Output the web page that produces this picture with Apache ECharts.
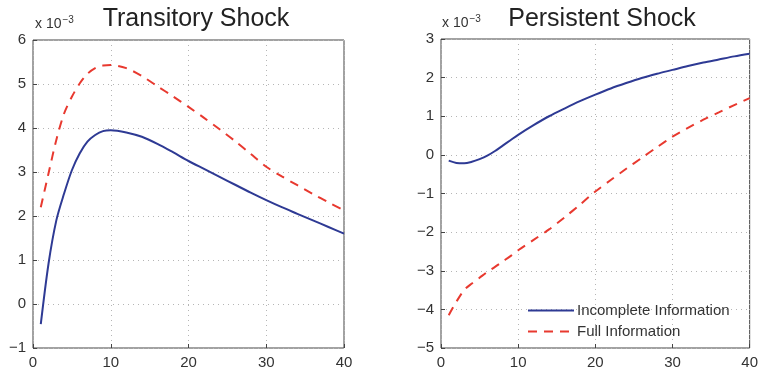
<!DOCTYPE html>
<html>
<head>
<meta charset="utf-8">
<script src="https://cdn.jsdelivr.net/npm/echarts@6/dist/echarts.min.js"></script>
<style>
  html, body { margin: 0; padding: 0; background: #fff; }
  #chart { width: 761px; height: 374px; }
</style>
</head>
<body>
<div id="chart"></div>
<script>
var chartDom = document.getElementById('chart');
var myChart = echarts.init(chartDom);

// values in units of 10^-3
var periods = [1, 2, 3, 4, 5, 6, 7, 8, 9, 10, 12, 14, 16, 18, 20, 22, 24, 26, 28, 30, 32, 34, 36, 38, 40];
var transIncomplete = [-0.46, 0.92, 1.9, 2.51, 3.04, 3.42, 3.69, 3.84, 3.93, 3.95, 3.9, 3.8, 3.64, 3.45, 3.25, 3.07, 2.89, 2.71, 2.53, 2.36, 2.2, 2.05, 1.9, 1.75, 1.6];
var transFull = [2.2, 2.97, 3.73, 4.33, 4.71, 5.01, 5.23, 5.36, 5.42, 5.43, 5.36, 5.18, 4.95, 4.72, 4.48, 4.23, 3.97, 3.7, 3.41, 3.12, 2.9, 2.7, 2.5, 2.31, 2.13];
var persIncomplete = [-0.15, -0.21, -0.22, -0.18, -0.11, -0.02, 0.1, 0.24, 0.38, 0.52, 0.77, 1.0, 1.2, 1.39, 1.56, 1.72, 1.86, 1.99, 2.1, 2.2, 2.3, 2.39, 2.47, 2.55, 2.62];
var persFull = [-4.15, -3.8, -3.5, -3.33, -3.18, -3.03, -2.9, -2.76, -2.62, -2.47, -2.2, -1.93, -1.62, -1.29, -0.95, -0.65, -0.36, -0.08, 0.2, 0.47, 0.7, 0.91, 1.1, 1.29, 1.47];
var titles = ['Transitory Shock', 'Persistent Shock'];
var seriesNames = ['Incomplete Information', 'Full Information'];

function pairs(ys) {
  return periods.map(function (x, i) { return [x, ys[i]]; });
}

var font = 'Liberation Sans, Arial, Helvetica, sans-serif';
var blue = '#2e3a94';
var red = '#e8392f';

function xAx(idx) {
  return {
    type: 'value', gridIndex: idx, min: 0, max: 40, interval: 10,
    axisLine: { show: false, onZero: false },
    axisTick: { inside: true, length: 4, lineStyle: { color: '#444' } },
    axisLabel: { fontSize: 15, color: '#333', fontFamily: font, margin: 7 },
    splitLine: { show: true, lineStyle: { color: '#b5b5b5', type: [1, 4] } }
  };
}
function yAx(idx, min, max) {
  return {
    type: 'value', gridIndex: idx, min: min, max: max, interval: 1,
    axisLine: { show: false, onZero: false },
    axisTick: { show: true, inside: true, length: 4, lineStyle: { color: '#444' } },
    axisLabel: {
      fontSize: 15, color: '#333', fontFamily: font, margin: 7,
      formatter: function (v) { return String(v).replace('-', '\u2212'); }
    },
    splitLine: { show: true, lineStyle: { color: '#b5b5b5', type: [1, 4] } }
  };
}

myChart.setOption({
  animation: false,
  title: [
    { text: titles[0], left: 191, top: 2, textAlign: 'center',
      textStyle: { fontSize: 25, fontWeight: 'normal', color: '#222', fontFamily: font } },
    { text: titles[1], left: 597, top: 2, textAlign: 'center',
      textStyle: { fontSize: 25, fontWeight: 'normal', color: '#222', fontFamily: font } }
  ],
  graphic: [
    { type: 'text', left: 35, top: 15,
      style: { text: 'x 10{s|\u22123}', fill: '#333', font: '14px ' + font,
        rich: { s: { fontSize: 10, verticalAlign: 'top', padding: [0, 0, 9, 1] } } } },
    { type: 'text', left: 442, top: 14,
      style: { text: 'x 10{s|\u22123}', fill: '#333', font: '14px ' + font,
        rich: { s: { fontSize: 10, verticalAlign: 'top', padding: [0, 0, 9, 1] } } } }
  ],
  legend: {
    data: seriesNames,
    orient: 'vertical',
    left: 522, top: 298,
    itemWidth: 46, itemHeight: 10, itemGap: 6,
    itemStyle: { opacity: 0 },
    textStyle: { fontSize: 15, color: '#333', fontFamily: font, padding: [0, 0, 0, -2] }
  },
  grid: [
    { left: 33, right: 417, top: 40, bottom: 26, show: true, borderColor: '#444', borderWidth: 1, backgroundColor: 'transparent' },
    { left: 441, right: 9, top: 39, bottom: 26, show: true, borderColor: '#444', borderWidth: 1, backgroundColor: 'transparent' }
  ],
  xAxis: [xAx(0), xAx(1)],
  yAxis: [yAx(0, -1, 6), yAx(1, -5, 3)],
  series: [
    { name: seriesNames[0], type: 'line', xAxisIndex: 0, yAxisIndex: 0, data: pairs(transIncomplete),
      smooth: 0.3, symbol: 'none', lineStyle: { color: blue, width: 2 }, itemStyle: { color: blue } },
    { name: seriesNames[1], type: 'line', xAxisIndex: 0, yAxisIndex: 0, data: pairs(transFull),
      smooth: 0.3, symbol: 'none', lineStyle: { color: red, width: 2, type: [9, 7] }, itemStyle: { color: red } },
    { name: seriesNames[0], type: 'line', xAxisIndex: 1, yAxisIndex: 1, data: pairs(persIncomplete),
      smooth: 0.3, symbol: 'none', lineStyle: { color: blue, width: 2 }, itemStyle: { color: blue } },
    { name: seriesNames[1], type: 'line', xAxisIndex: 1, yAxisIndex: 1, data: pairs(persFull),
      smooth: 0.3, symbol: 'none', lineStyle: { color: red, width: 2, type: [9, 7] }, itemStyle: { color: red } }
  ]
});
</script>
</body>
</html>
